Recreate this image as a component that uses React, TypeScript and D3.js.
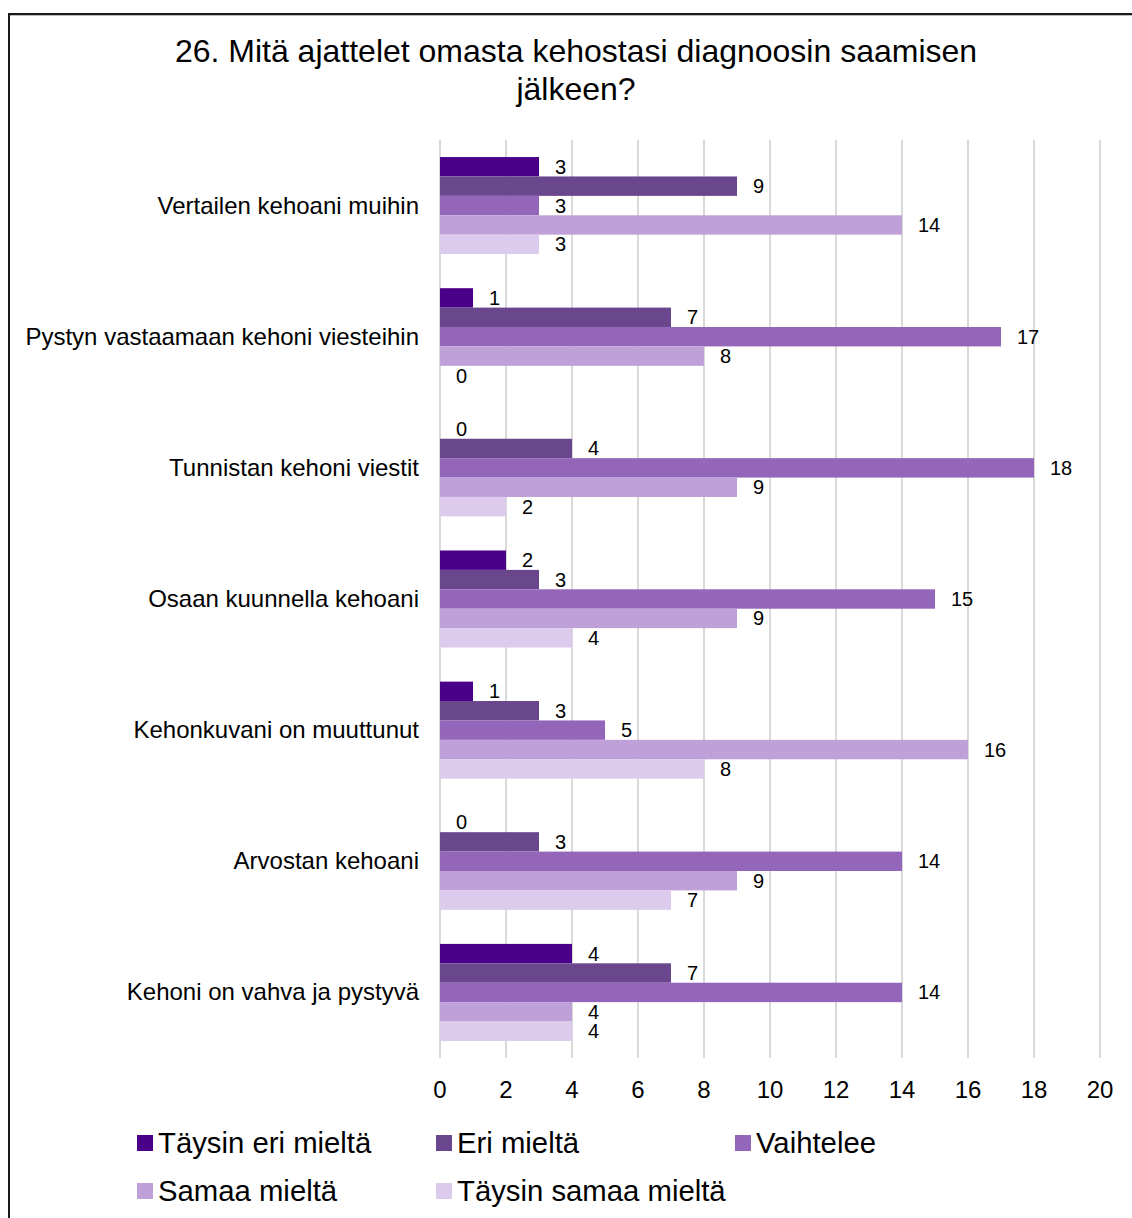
import React from "react";
import * as d3 from "d3";

const categories = [
  "Vertailen kehoani muihin",
  "Pystyn vastaamaan kehoni viesteihin",
  "Tunnistan kehoni viestit",
  "Osaan kuunnella kehoani",
  "Kehonkuvani on muuttunut",
  "Arvostan kehoani",
  "Kehoni on vahva ja pystyvä",
];

const series = [
  "Täysin eri mieltä",
  "Eri mieltä",
  "Vaihtelee",
  "Samaa mieltä",
  "Täysin samaa mieltä",
];

const colors = ["#4b008a", "#6a468c", "#9366ba", "#c0a0d8", "#dccbec"];

// values[category][series]
const values = [
  [3, 9, 3, 14, 3],
  [1, 7, 17, 8, 0],
  [0, 4, 18, 9, 2],
  [2, 3, 15, 9, 4],
  [1, 3, 5, 16, 8],
  [0, 3, 14, 9, 7],
  [4, 7, 14, 4, 4],
];

const xTicks = [0, 2, 4, 6, 8, 10, 12, 14, 16, 18, 20];

const W = 1132;
const H = 1218;
const font = "'Liberation Sans', Arial, sans-serif";

export default function App() {
  const x = d3.scaleLinear().domain([0, 20]).range([440, 1100]);
  const y = d3
    .scaleBand<string>()
    .domain(categories)
    .range([140, 1058])
    .paddingInner(0.26)
    .paddingOuter(0.13);
  const sub = d3
    .scaleBand<string>()
    .domain(series)
    .range([0, y.bandwidth()]);

  const legendPos = series.map((s, i) => ({
    s,
    c: colors[i],
    x: 137 + (i % 3) * 299,
    y: 1143 + Math.floor(i / 3) * 48,
  }));

  return (
    <svg
      width={W}
      height={H}
      style={{ position: "absolute", left: 0, top: 0, background: "#fff" }}
      fontFamily={font}
    >
      <rect x={0} y={0} width={W} height={H} fill="#fff" />
      {/* border */}
      <line x1={8} x2={W} y1={15.5} y2={15.5} stroke="#bbb" strokeWidth={1} />
      <line x1={8} x2={W} y1={14} y2={14} stroke="#1a1a1a" strokeWidth={2} />
      <line x1={9} x2={9} y1={13} y2={H} stroke="#1a1a1a" strokeWidth={2} />

      <text x={576} y={62} fontSize={32} textAnchor="middle" fill="#000">
        26. Mitä ajattelet omasta kehostasi diagnoosin saamisen
      </text>
      <text x={576} y={100} fontSize={32} textAnchor="middle" fill="#000">
        jälkeen?
      </text>

      {/* gridlines */}
      {xTicks.map((t) => (
        <line
          key={t}
          x1={x(t)}
          x2={x(t)}
          y1={140}
          y2={1058}
          stroke="#d9d9d9"
          strokeWidth={2}
        />
      ))}
      {xTicks.map((t) => (
        <text
          key={"t" + t}
          x={x(t)}
          y={1097.5}
          fontSize={24}
          textAnchor="middle"
          fill="#000"
        >
          {t}
        </text>
      ))}

      {categories.map((cat, ci) => {
        const y0 = y(cat)!;
        return (
          <g key={cat}>
            <text
              x={419}
              y={y0 + y.bandwidth() / 2 + 8}
              fontSize={24}
              textAnchor="end"
              fill="#000"
            >
              {cat}
            </text>
            {series.map((s, si) => {
              const v = values[ci][si];
              const by = y0 + sub(s)!;
              return (
                <g key={s}>
                  <rect
                    x={x(0)}
                    y={by}
                    width={x(v) - x(0)}
                    height={sub.bandwidth()}
                    fill={colors[si]}
                  />
                  <text
                    x={x(v) + 16}
                    y={by + sub.bandwidth() / 2 + 7}
                    fontSize={20}
                    fill="#000"
                  >
                    {v}
                  </text>
                </g>
              );
            })}
          </g>
        );
      })}

      {legendPos.map((l) => (
        <g key={l.s}>
          <rect x={l.x} y={l.y - 8} width={16} height={16} fill={l.c} />
          <text x={l.x + 21} y={l.y + 10} fontSize={29.3} fill="#000">
            {l.s}
          </text>
        </g>
      ))}
    </svg>
  );
}
